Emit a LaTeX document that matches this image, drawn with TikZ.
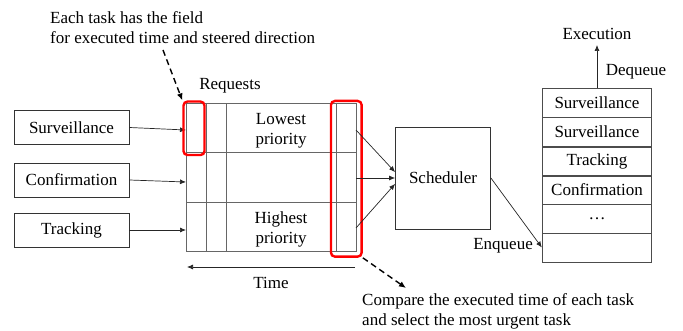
\documentclass[tikz,border=0pt]{standalone}
\usepackage{fontspec}
\setmainfont{Liberation Serif}
\usetikzlibrary{arrows.meta}
\begin{document}
\begin{tikzpicture}[x=1pt,y=-1pt,
  every node/.style={font=\fontsize{17}{20}\selectfont, text=black},
  task/.style={draw=black!80, line width=0.8pt, minimum width=115pt, minimum height=34pt, inner sep=0pt},
  qrow/.style={draw=black!70, line width=0.9pt, minimum width=109.4pt, minimum height=29pt, inner sep=0pt},
  conn/.style={draw=black!85, line width=0.7pt, -{Latex[length=6pt,width=5pt]}},
  gridline/.style={draw=black!60, line width=1pt},
  hl/.style={draw=red, line width=2.4pt, rounded corners=4pt, inner sep=0pt},
  note/.style={draw=black, line width=1.4pt, dash pattern=on 6pt off 4pt, -{Latex[length=7pt,width=6pt]}},
  lbl/.style={inner sep=0pt}]
\useasboundingbox (0,0) rectangle (683,331);

% task sources
\node[task] (surv) at (71.5,127.5) {Surveillance};
\node[task] (conf) at (71.5,180) {Confirmation};
\node[task] (trk) at (71.5,230) {Tracking};

% request table
\draw[gridline] (186,104) rectangle (356,252);
\foreach \x in {206,226,336} \draw[gridline] (\x,104) -- (\x,252);
\foreach \y in {153,203} \draw[gridline] (186,\y) -- (356,\y);
\node[lbl, align=center] (lowest) at (281,130.5) {Lowest\\priority};
\node[lbl, align=center] (highest) at (281,229) {Highest\\priority};
\node[lbl] (requests) at (230,86) {Requests};

\coordinate (inS) at (186,130);
\coordinate (inC) at (186,182);
\coordinate (inT) at (186,230);
\draw[conn] (surv.east) -- (inS);
\draw[conn] (conf.east) -- (inC);
\draw[conn] (trk.east) -- (inT);

% highlighted fields
\node[hl, minimum width=21pt, minimum height=53.5pt] (field) at (194,128.3) {};
\node[hl, minimum width=30.7pt, minimum height=155.7pt] (cmp) at (346.3,178.8) {};

% time axis
\coordinate (tR) at (355,267);
\coordinate (tL) at (187,267);
\draw[conn] (tR) -- (tL);
\node[lbl] (time) at (271,283) {Time};

% scheduler
\node[draw=black!80, line width=0.8pt, minimum width=95pt, minimum height=102pt, inner sep=0pt] (sched) at (443,178) {Scheduler};
\coordinate (oL) at (356,130);
\coordinate (oM) at (356,178);
\coordinate (oH) at (356,228);
\draw[conn] (oL) -- (sched.173);
\draw[conn] (oM) -- (sched.west);
\draw[conn] (oH) -- (sched.187);

% execution queue
\node[qrow] (q1) at (597,102.5) {Surveillance};
\node[qrow] (q2) at (597,131.5) {Surveillance};
\node[qrow] (q3) at (597,161.5) {Tracking};
\node[qrow] (q4) at (597,189.5) {Confirmation};
\node[qrow] (q5) at (597,218.5) {…};
\node[qrow] (q6) at (597,247.5) {};
\draw[conn] (sched.east) -- (q6.west);
\node[lbl, anchor=east] (enq) at (533,246) {Enqueue};
\node[lbl] (exec) at (597,34) {Execution};
\coordinate (execIn) at (597,45);
\draw[conn] (q1.north) -- (execIn);
\node[lbl] (deq) at (636,72) {Dequeue};

% annotations
\node[lbl, anchor=west, align=left] (topnote) at (50,28) {Each task has the field\\for executed time and steered direction};
\coordinate (topTail) at (163,50);
\draw[note] (topTail) -- (field.north west);
\node[lbl, anchor=west, align=left] (botnote) at (362,311) {Compare the executed time of each task\\and select the most urgent task};
\coordinate (botHead) at (406,288);
\draw[note] (cmp.south east) -- (botHead);
\end{tikzpicture}
\end{document}
